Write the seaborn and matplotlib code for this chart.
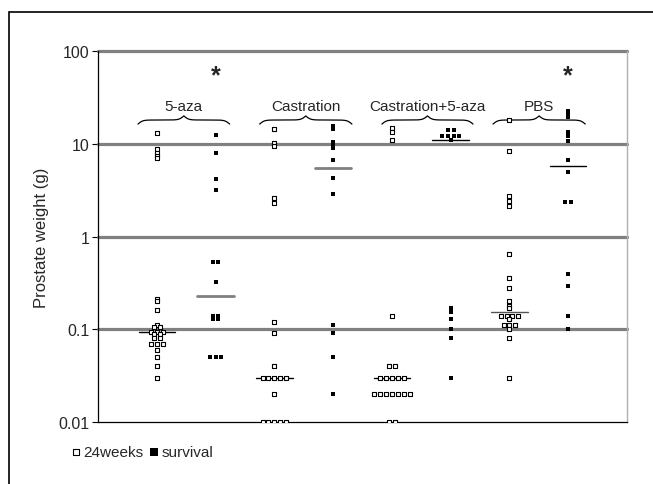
import numpy as np
import pandas as pd
import matplotlib
matplotlib.use("Agg")
import matplotlib.pyplot as plt
import seaborn as sns
from matplotlib.transforms import blended_transform_factory

# values (prostate weight, g)
treatments = ["5-aza", "Castration", "Castration+5-aza", "PBS"]
cohorts = ["24weeks", "survival"]
stars = ["*", "", "", "*"]

aza_24w = [13, 8.8, 8.0, 7.4, 7.1,
           0.21, 0.2, 0.16, 0.11, 0.105, 0.105, 0.093, 0.093, 0.093,
           0.088, 0.088, 0.08, 0.08, 0.07, 0.07, 0.07, 0.06, 0.05, 0.04, 0.03]
aza_surv = [12.5, 8.0, 4.2, 3.2, 0.53, 0.53, 0.32,
            0.14, 0.14, 0.13, 0.13, 0.05, 0.05, 0.05]
cas_24w = [14.4, 10.2, 9.5, 2.6, 2.3, 0.12, 0.09, 0.04,
           0.03, 0.03, 0.03, 0.03, 0.03, 0.02,
           0.01, 0.01, 0.01, 0.01, 0.01]
cas_surv = [15.7, 14.5, 10.4, 9.6, 8.9, 6.7, 4.3, 2.9, 0.11, 0.09, 0.05, 0.02]
cas_aza_24w = [14.7, 13.3, 11.0, 0.14, 0.04, 0.04,
               0.03, 0.03, 0.03, 0.03, 0.03,
               0.02, 0.02, 0.02, 0.02, 0.02, 0.02, 0.02, 0.01, 0.01]
cas_aza_surv = [14.2, 14.2, 12, 12, 12, 12, 11.0,
                0.17, 0.155, 0.13, 0.1, 0.081, 0.03]
pbs_24w = [18.2, 8.3, 2.7, 2.4, 2.15, 0.64, 0.36, 0.28, 0.2, 0.18, 0.17,
           0.14, 0.14, 0.14, 0.14, 0.13, 0.11, 0.11, 0.11, 0.1, 0.08, 0.03]
pbs_surv = [22.7, 20.9, 19.5, 13.3, 12.0, 10.6, 6.6, 5.0, 2.34, 2.34,
            0.39, 0.29, 0.14, 0.1]

groups = [aza_24w, aza_surv, cas_24w, cas_surv,
          cas_aza_24w, cas_aza_surv, pbs_24w, pbs_surv]

rows = []
for i, vals in enumerate(groups):
    treat = treatments[i // 2]
    coh = cohorts[i % 2]
    s = pd.Series(vals)
    # spread identical values side by side, like a dot plot
    for v, n in s.value_counts(sort=False).items():
        offs = (np.arange(n) - (n - 1) / 2) * 0.1
        for o in offs:
            rows.append({"treatment": treat, "cohort": coh, "pos": i + o, "weight": v})
df = pd.DataFrame(rows)

sns.set_style("white")
plt.rcParams["font.family"] = ["Liberation Sans", "DejaVu Sans"]

fig = plt.figure(figsize=(6.53, 4.85), dpi=100)
ax = fig.add_axes([98 / 653, 1 - 423 / 485, 529 / 653, 371 / 485])

# gray decade lines
for g in [0.1, 1, 10, 100]:
    ax.axhline(g, color="#808080", lw=2.3, zorder=1, clip_on=False)

d24 = df[df["cohort"] == "24weeks"]
dsv = df[df["cohort"] == "survival"]
sns.scatterplot(data=d24, x="pos", y="weight", marker="s", s=10, facecolor="white",
                edgecolor="black", linewidth=0.8, ax=ax, zorder=3, label="24weeks")
sns.scatterplot(data=dsv, x="pos", y="weight", marker="s", s=9, color="black",
                linewidth=0, ax=ax, zorder=3, label="survival")

# median bars
med_colors = ["black", "#808080", "black", "#808080", "black", "black", "#555555", "black"]
med_widths = [1.0, 2.0, 1.0, 2.0, 1.0, 1.0, 1.0, 1.0]
for i, vals in enumerate(groups):
    m = np.median(vals)
    ax.plot([i - 0.31, i + 0.31], [m, m], color=med_colors[i], lw=med_widths[i], zorder=2)

ax.set_yscale("log")
ax.set_ylim(0.01, 100)
ax.set_xlim(-1, 8)
ax.set_yticks([0.01, 0.1, 1, 10, 100])
ax.set_yticklabels(["0.01", "0.1", "1", "10", "100"], fontsize=11.5)
ax.yaxis.set_minor_locator(matplotlib.ticker.NullLocator())
ax.tick_params(axis="y", which="major", direction="out", length=4, width=0.8,
               color="black", left=True, pad=2)
ax.set_xticks([])
ax.set_xlabel("")
ax.set_ylabel("Prostate weight (g)", fontsize=12, labelpad=7)

ax.spines["top"].set_visible(False)
ax.spines["left"].set_color("black")
ax.spines["left"].set_linewidth(0.9)
ax.spines["bottom"].set_color("black")
ax.spines["bottom"].set_linewidth(0.9)
ax.spines["right"].set_color("#b0b0b0")
ax.spines["right"].set_linewidth(1.0)

# curly braces with treatment labels
trans = blended_transform_factory(ax.transData, ax.transAxes)


def brace(x0, x1, base, h, beta=25.0):
    xm = (x0 + x1) / 2
    xs = np.linspace(x0, xm, 150)
    yh = 1 / (1 + np.exp(-beta * (xs - x0))) + 1 / (1 + np.exp(-beta * (xs - xm)))
    yh = yh - yh[0]
    yh = yh / yh[-1]
    xx = np.concatenate([xs, (2 * xm - xs)[::-1]])
    yy = np.concatenate([yh, yh[::-1]])
    ax.plot(xx, base + yy * h, color="black", lw=0.9, transform=trans, clip_on=False)


brace_spans = [(-0.32, 1.24), (1.75, 3.32), (3.83, 5.38), (5.72, 7.29)]
for k, t in enumerate(treatments):
    x0, x1 = brace_spans[k]
    brace(x0, x1, 0.803, 0.022)
    ax.text((x0 + x1) / 2, 0.853, t, transform=trans, ha="center", va="center", fontsize=11)
    if stars[k]:
        ax.text(2 * k + 1, 0.935, stars[k], transform=trans, ha="center", va="center",
                fontsize=18, fontweight="bold")

ax.legend().remove()
h, l = ax.get_legend_handles_labels()
leg = fig.legend(h, l, loc="center left", bbox_to_anchor=(66 / 653, 1 - 453 / 485), ncol=2,
                 frameon=False, fontsize=11, handlelength=0.5, handletextpad=0.2,
                 columnspacing=0.5, borderaxespad=0)
leg.legend_handles[0].set_sizes([14])
leg.legend_handles[1].set_sizes([26])

# outer frame of the figure
fig.add_artist(plt.Rectangle((9 / 653, -0.2), 1.2, 1.2 - 13 / 485, transform=fig.transFigure,
                             fill=False, lw=1.2, edgecolor="black"))

fig.savefig("out.png", dpi=100)
